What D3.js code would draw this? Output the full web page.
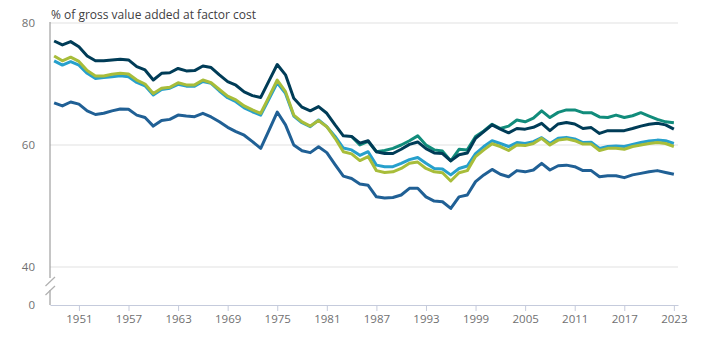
<!DOCTYPE html>
<meta charset="utf-8">
<style>
body { margin: 0; background: #fff; }
text { font-family: "Open Sans", sans-serif; }
.title { font-size: 12px; fill: #414042; }
.axis text { font-size: 11.5px; fill: #707071; }
.line { fill: none; stroke-width: 3px; stroke-linejoin: round; }
</style>
<svg width="710" height="347"></svg>
<script src="https://cdnjs.cloudflare.com/ajax/libs/d3/7.8.5/d3.min.js"></script>
<script>

// years 1948 - 2023
var years = d3.range(1948, 2024);

var navy = [77.05, 76.4, 76.95, 76.1, 74.6, 73.8, 73.8, 73.95, 74.05, 73.95,
  72.85, 72.3, 70.65, 71.75, 71.85, 72.55, 72.15, 72.2, 72.95, 72.7,
  71.5, 70.4, 69.8, 68.7, 68.1, 67.8, 70.5, 73.2, 71.5, 67.65,
  66.2, 65.6, 66.3, 65.2, 63.3, 61.5, 61.4, 60.3, 60.7, 58.9,
  58.6, 58.6, 59.3, 60.1, 60.5, 59.4, 58.7, 58.6, 57.4, 58.4,
  58.7, 61.1, 62.2, 63.3, 62.6, 62.0, 62.7, 62.6, 62.9, 63.55,
  62.35, 63.45, 63.7, 63.45, 62.7, 62.85, 61.9, 62.35, 62.35, 62.35,
  62.7, 63.1, 63.4, 63.55, 63.3, 62.6];

// teal series only separates from the navy one from 1984
var tealYears = d3.range(1984, 2024);
var teal = [61.4, 60.0, 60.6, 58.9,
  59.1, 59.45, 60.0, 60.7, 61.5, 60.0, 59.2, 59.0, 57.4, 59.3,
  59.2, 61.4, 62.3, 63.4, 62.7, 63.1, 64.1, 63.8, 64.4, 65.6,
  64.5, 65.35, 65.75, 65.75, 65.3, 65.3, 64.6, 64.5, 64.9, 64.5,
  64.8, 65.3, 64.75, 64.2, 63.8, 63.65];

var lightBlue = [73.8, 73.1, 73.65, 73.1, 71.75, 70.9, 71.05, 71.2, 71.35, 71.2,
  70.25, 69.7, 68.2, 69.1, 69.3, 69.95, 69.65, 69.65, 70.4, 70.1,
  68.85, 67.75, 67.1, 66.1, 65.45, 64.9, 67.55, 70.2, 68.45, 64.75,
  63.65, 63.0, 64.1, 63.0, 61.4, 59.5, 59.2, 58.3, 58.9, 56.7,
  56.45, 56.45, 57.0, 57.6, 57.95, 57.0, 56.15, 56.05, 55.1, 56.15,
  56.55, 58.6, 59.75, 60.7, 60.25, 59.75, 60.4, 60.25, 60.55, 61.2,
  60.25, 61.1, 61.25, 61.0, 60.4, 60.45, 59.45, 59.75, 59.85, 59.75,
  60.1, 60.4, 60.65, 60.8, 60.7, 60.25];

var lime = [74.6, 73.8, 74.4, 73.7, 72.2, 71.3, 71.3, 71.6, 71.75, 71.65,
  70.65, 70.0, 68.45, 69.3, 69.45, 70.2, 69.85, 69.85, 70.65, 70.2,
  69.1, 68.0, 67.4, 66.4, 65.75, 65.2, 67.9, 70.65, 68.75, 64.9,
  63.8, 63.1, 64.0, 63.0, 61.1, 58.9, 58.55, 57.45, 58.1, 55.8,
  55.5, 55.6, 56.15, 57.0, 57.2, 56.15, 55.6, 55.45, 54.1, 55.45,
  55.8, 58.1, 59.2, 60.2, 59.75, 59.1, 60.0, 59.9, 60.25, 61.1,
  60.0, 60.8, 61.0, 60.7, 60.15, 60.15, 59.1, 59.45, 59.45, 59.3,
  59.75, 60.0, 60.25, 60.4, 60.25, 59.75];

var blue = [66.9, 66.4, 67.05, 66.7, 65.6, 65.0, 65.2, 65.6, 65.9, 65.85,
  64.9, 64.5, 63.1, 64.0, 64.2, 64.9, 64.75, 64.65, 65.2, 64.6,
  63.8, 62.9, 62.2, 61.6, 60.55, 59.45, 62.4, 65.4, 63.3, 60.0,
  59.05, 58.75, 59.7, 58.75, 56.8, 54.9, 54.5, 53.6, 53.4, 51.5,
  51.3, 51.4, 51.8, 52.9, 52.9, 51.5, 50.8, 50.7, 49.6, 51.5,
  51.8, 54.0, 55.1, 56.0, 55.2, 54.8, 55.8, 55.6, 55.9, 57.0,
  55.9, 56.6, 56.7, 56.45, 55.8, 55.8, 54.8, 54.95, 54.95, 54.65,
  55.1, 55.35, 55.6, 55.8, 55.5, 55.2];

var xTicks = [1951, 1957, 1963, 1969, 1975, 1981, 1987, 1993, 1999, 2005, 2011, 2017, 2023];
var yTicks = [0, 40, 60, 80];
var gridTicks = [40, 60, 80];

var svg = d3.select("svg");
var left = 50, right = 678;

var xScale = d3.scaleLinear()
  .domain([1947.5, 2023.5])
  .range([left, right]);

// broken axis: 0 sits just below 40
var yScale = d3.scaleLinear()
  .domain([0, 40, 80])
  .range([305, 267, 23]);

// title
svg.append("text")
  .attr("class", "title")
  .attr("x", 51)
  .attr("y", 19)
  .text("% of gross value added at factor cost");

// gridlines
svg.append("g")
  .selectAll("line")
  .data(gridTicks)
  .enter().append("line")
  .attr("x1", left).attr("x2", right)
  .attr("y1", function(d) { return yScale(d); })
  .attr("y2", function(d) { return yScale(d); })
  .attr("stroke", "#e1e1e1")
  .attr("stroke-width", 1);

// y axis labels
var yAxis = svg.append("g")
  .attr("class", "axis")
  .attr("transform", "translate(" + left + ",0)")
  .call(d3.axisLeft(yScale).tickValues(yTicks).tickSize(0).tickPadding(15));
yAxis.select(".domain").remove();

// left axis line with break
svg.append("line")
  .attr("x1", left).attr("x2", left)
  .attr("y1", yScale(80) - 1).attr("y2", 278)
  .attr("stroke", "#8c8c8c");
svg.append("line")
  .attr("x1", left).attr("x2", left)
  .attr("y1", 290).attr("y2", yScale(0))
  .attr("stroke", "#8c8c8c");
svg.append("g")
  .selectAll("line")
  .data([0, 9])
  .enter().append("line")
  .attr("x1", 45.5).attr("x2", 55)
  .attr("y1", function(d) { return 286 + d; })
  .attr("y2", function(d) { return 277 + d; })
  .attr("stroke", "#b0b0b0")
  .attr("stroke-width", 1.2);

// x axis
var xAxis = svg.append("g")
  .attr("class", "axis")
  .attr("transform", "translate(0," + yScale(0) + ")")
  .call(d3.axisBottom(xScale).tickValues(xTicks).tickFormat(d3.format("d")).tickSize(6).tickSizeOuter(0).tickPadding(4));
xAxis.select(".domain").attr("stroke", "#c5cbdc");
xAxis.selectAll(".tick line").attr("stroke", "#c5cbdc");

// lines
var line = d3.line()
  .x(function(d) { return xScale(d[0]); })
  .y(function(d) { return yScale(d[1]); });

var series = [
  { x: years, y: blue, color: "#206095" },
  { x: years, y: lightBlue, color: "#27a0cc" },
  { x: years, y: lime, color: "#a8bd3a" },
  { x: tealYears, y: teal, color: "#118c7b" },
  { x: years, y: navy, color: "#003c57" }
];

svg.append("g")
  .selectAll("path")
  .data(series)
  .enter().append("path")
  .attr("class", "line")
  .attr("stroke", function(d) { return d.color; })
  .attr("d", function(d) {
    return line(d.x.map(function(yr, i) { return [yr, d.y[i]]; }));
  });

</script>
